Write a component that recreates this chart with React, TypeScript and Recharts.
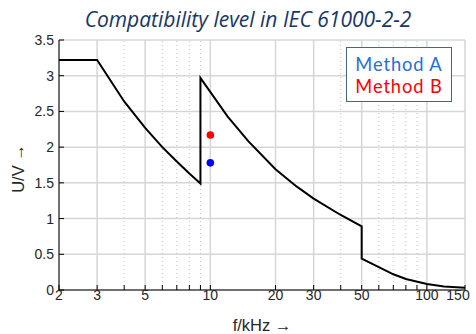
import { ComposedChart, Line, Scatter, XAxis, YAxis, CartesianGrid, ReferenceLine } from "recharts";

// compatibility level curve
const freqKHz = [2, 3, 4, 5, 6, 7, 8, 9, 9, 12, 15, 20, 25, 30, 40, 50, 50, 60, 70, 80, 100, 120, 150];
const levelV = [3.22, 3.22, 2.64, 2.27, 2.0, 1.8, 1.63, 1.49, 2.97, 2.43, 2.08, 1.69, 1.45, 1.28, 1.05, 0.89, 0.44, 0.32, 0.22, 0.155, 0.085, 0.05, 0.03];

const methodAFreq = [10];
const methodAValue = [1.78];
const methodBFreq = [10];
const methodBValue = [2.17];

const majorTicks = [2, 3, 5, 10, 20, 30, 50, 100, 150];
const minorTicks = [4, 6, 7, 8, 9, 40, 60, 70, 80, 90];
const yTicks = [0, 0.5, 1, 1.5, 2, 2.5, 3, 3.5];

const curve = freqKHz.map((f, i) => ({ f, v: levelV[i] }));
const methodA = methodAFreq.map((f, i) => ({ f, v: methodAValue[i] }));
const methodB = methodBFreq.map((f, i) => ({ f, v: methodBValue[i] }));
const allXTicks = [...majorTicks, ...minorTicks].sort((a, b) => a - b);

const FONT = "Liberation Sans, Arial, sans-serif";
const tickFont = { fontSize: 14, fill: "#262626", fontFamily: FONT };

const Dot = (color: string) => (p: any) => <circle cx={p.cx} cy={p.cy} r={3.8} fill={color} />;

// bottom tick labels: only the major ones, last one pulled inside the frame
const XTick = (p: any) => {
  const v = p.payload.value;
  if (!majorTicks.includes(v)) return <g />;
  const shift = v === 150 ? -7 : 0;
  return (
    <text x={p.x + shift} y={p.y} dy="0.71em" textAnchor="middle" fontSize={14} fill="#262626" fontFamily={FONT}>
      {v}
    </text>
  );
};

export default function App() {
  return (
    <div style={{ position: "absolute", left: 0, top: 0, width: 476, height: 334, background: "#fff", overflow: "hidden" }}>
      <ComposedChart width={476} height={334} margin={{ top: 40, right: 11, bottom: 0, left: 19 }}>
        <CartesianGrid xAxisId="b" yAxisId="l" vertical={false} stroke="#d6d6d6" strokeWidth={1.5} />
        {majorTicks.map((t) => (
          <ReferenceLine key={"M" + t} xAxisId="b" yAxisId="l" x={t} stroke="#d6d6d6" strokeWidth={1.5} />
        ))}
        {minorTicks.map((t) => (
          <ReferenceLine key={"m" + t} xAxisId="b" yAxisId="l" x={t} stroke="#c4c4c4" strokeWidth={1} strokeDasharray="1 3" />
        ))}
        <XAxis
          xAxisId="b"
          dataKey="f"
          type="number"
          scale="log"
          domain={[2, 150]}
          allowDataOverflow
          ticks={allXTicks}
          interval={0}
          tickSize={-5}
          tickMargin={5}
          height={44}
          stroke="#000"
          tick={<XTick />}
        />
        <XAxis
          xAxisId="t"
          orientation="top"
          dataKey="f"
          type="number"
          scale="log"
          domain={[2, 150]}
          allowDataOverflow
          ticks={allXTicks}
          interval={0}
          tickFormatter={() => ""}
          tickSize={-5}
          height={0}
          stroke="#000"
        />
        <YAxis
          yAxisId="l"
          type="number"
          domain={[0, 3.5]}
          ticks={yTicks}
          interval={0}
          tickSize={-5}
          tickMargin={10}
          width={40}
          stroke="#000"
          tick={tickFont}
        />
        <YAxis
          yAxisId="r"
          orientation="right"
          type="number"
          domain={[0, 3.5]}
          ticks={yTicks}
          interval={0}
          tickFormatter={() => ""}
          tickSize={-5}
          width={0}
          stroke="#000"
        />
        <Line
          xAxisId="b"
          yAxisId="l"
          data={curve}
          dataKey="v"
          type="linear"
          stroke="#000"
          strokeWidth={2}
          dot={false}
          isAnimationActive={false}
        />
        <Scatter xAxisId="b" yAxisId="l" data={methodA} dataKey="v" shape={Dot("#0000ff")} isAnimationActive={false} />
        <Scatter xAxisId="b" yAxisId="l" data={methodB} dataKey="v" shape={Dot("#ff0000")} isAnimationActive={false} />
      </ComposedChart>

      <div
        style={{
          position: "absolute", left: 20, width: 456, top: 5, textAlign: "center", lineHeight: "29px",
          fontFamily: "Open Sans, sans-serif", fontStyle: "italic", fontSize: 21, color: "#173866",
        }}
      >
        Compatibility level in IEC 61000-2-2
      </div>

      <div
        style={{
          position: "absolute", left: 346, top: 47, width: 106, height: 55,
          border: "1px solid #44668a", background: "#fff", textAlign: "center",
          fontFamily: "Lato, sans-serif", fontSize: 18.3, letterSpacing: 0.9, lineHeight: "22px",
          paddingTop: 5, boxSizing: "border-box",
        }}
      >
        <div style={{ color: "#1f6fd6" }}>Method A</div>
        <div style={{ color: "#ff0000" }}>Method B</div>
      </div>

      <div
        style={{
          position: "absolute", left: 212, width: 100, top: 316, textAlign: "center", lineHeight: "19px",
          fontFamily: FONT, fontSize: 16.5, color: "#262626",
        }}
      >
        f/kHz →
      </div>
      <div
        style={{
          position: "absolute", left: -32, width: 100, top: 159, textAlign: "center", lineHeight: "19px",
          transform: "rotate(-90deg)",
          fontFamily: FONT, fontSize: 16.5, color: "#262626",
        }}
      >
        U/V →
      </div>
    </div>
  );
}
